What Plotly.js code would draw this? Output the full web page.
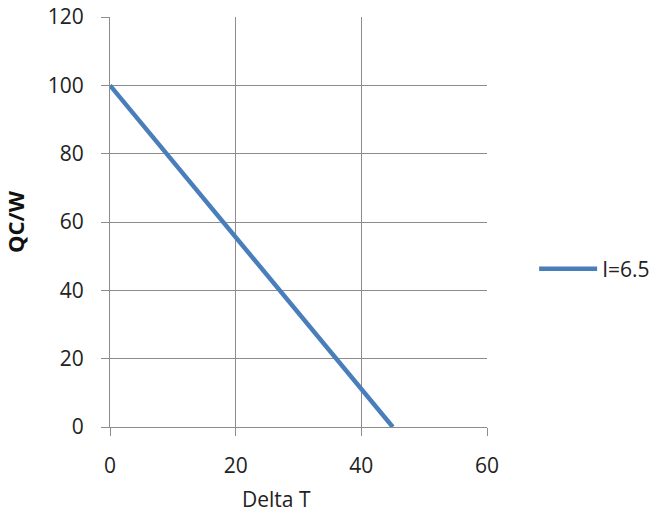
<!DOCTYPE html>
<html>
<head>
<meta charset="utf-8">
<script src="https://cdn.plot.ly/plotly-3.0.1.min.js"></script>
<style>html,body{margin:0;padding:0;background:#fff;}#chart{width:667px;height:518px;}</style>
</head>
<body>
<div id="chart"></div>
<script>
const deltaT = [0, 45.0];
const qc = [100, 0];
const seriesName = "I=6.5";
const xTitle = "Delta T";
const yTitle = "QC/W";

const gridCol = "#8c8c8c";
const fontFam = "Open Sans, Noto Sans, sans-serif";

const data = [{
  x: deltaT, y: qc, type: "scatter", mode: "lines", name: seriesName,
  line: {color: "#4a7ebb", width: 4.5}
}];

const axisCommon = {
  showgrid: true, gridcolor: gridCol, gridwidth: 1,
  showline: true, linecolor: gridCol, linewidth: 1, mirror: false,
  ticks: "outside", ticklen: 8, tickcolor: gridCol, tickwidth: 1,
  zeroline: false, tickfont: {family: fontFam, size: 21, color: "#222"}
};

const layout = {
  width: 667, height: 518,
  margin: {l: 110, r: 180, t: 17, b: 91},
  paper_bgcolor: "#fff", plot_bgcolor: "#fff",
  showlegend: true,
  legend: {x: 1.125, y: 0.385, xanchor: "left", yanchor: "middle", itemwidth: 58,
           font: {family: fontFam, size: 21, color: "#222"}, bgcolor: "rgba(0,0,0,0)"},
  xaxis: Object.assign({}, axisCommon, {
    range: [0, 60], dtick: 20, tick0: 0, ticklabelstandoff: 12
  }),
  yaxis: Object.assign({}, axisCommon, {
    range: [0, 120], dtick: 20, tick0: 0, ticklabelstandoff: 13,
    title: {text: "<b>" + yTitle + "</b>", font: {family: fontFam, size: 22, color: "#111"}, standoff: 17}
  }),
  annotations: [{
    text: xTitle, xref: "paper", yref: "paper", x: (276 - 110) / 377, y: -(499 - 427) / 410,
    xanchor: "center", yanchor: "middle", showarrow: false,
    font: {family: fontFam, size: 21, color: "#222"}
  }]
};

Plotly.newPlot("chart", data, layout, {displayModeBar: false, staticPlot: true});
</script>
</body>
</html>
